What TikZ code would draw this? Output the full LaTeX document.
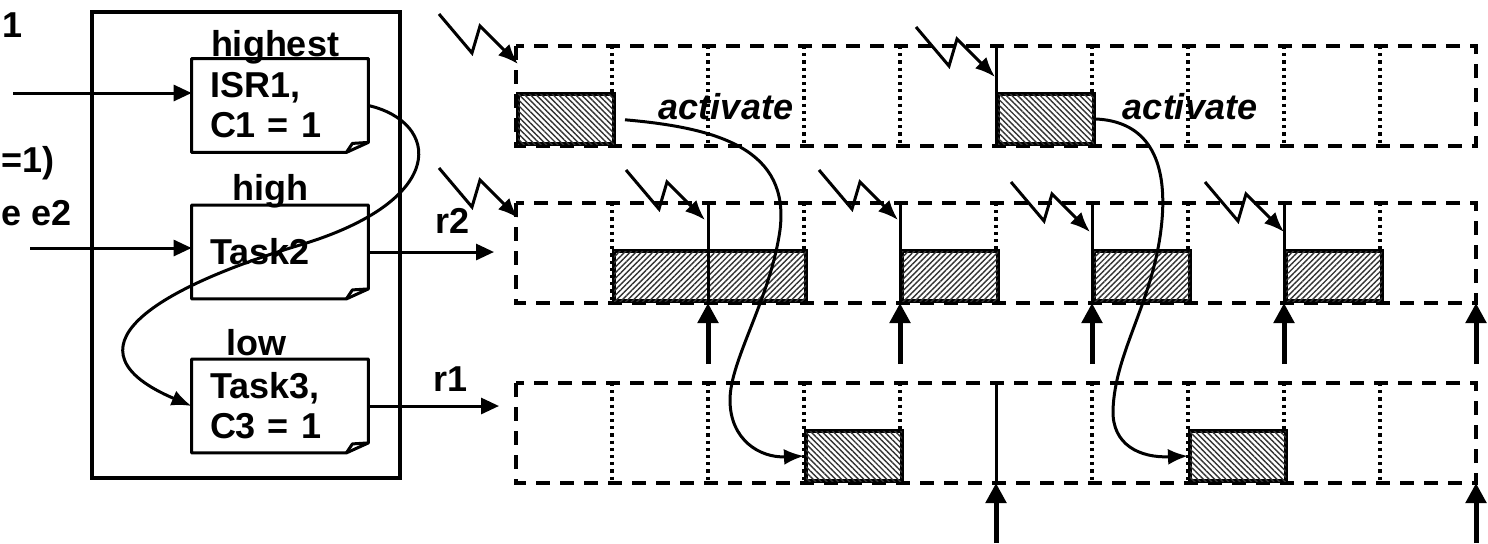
\documentclass[tikz,border=0pt]{standalone}
\usepackage{fontspec}
\setmainfont{Liberation Sans}
\usetikzlibrary{arrows.meta, calc, patterns.meta}
\newcommand\diafont{\bfseries\fontsize{18}{20}\selectfont}
\tikzset{
	lbl/.style={font=\diafont, inner sep=0pt},
	actlbl/.style={font=\diafont\itshape, inner sep=0pt},
	osbox/.style={draw, line width=2pt, minimum width=154pt, minimum height=233pt},
	taskbox/.style={minimum width=88pt, minimum height=46.5pt, inner xsep=9pt, inner ysep=0pt, text width=70pt, align=left, font=\diafont},
	note/.style={line width=1.5pt, line join=round},
	frame/.style={line width=2pt, dash pattern=on 7pt off 5pt},
	tick/.style={line width=1.6pt, dash pattern=on 1.6pt off 2pt},
	instant/.style={line width=1.5pt},
	slot/.style={draw, line width=2pt, anchor=south west, inner sep=0pt, minimum width=48pt, minimum height=25pt, fill=white},
	hatchdn/.style={postaction={pattern={Lines[angle=-45, distance=2pt, line width=0.7pt]}, pattern color=black!80}},
	hatchup/.style={postaction={pattern={Lines[angle=45, distance=2pt, line width=0.7pt]}, pattern color=black!80}},
	arrow/.style={-{Triangle[length=9pt, width=8pt]}, line width=1.5pt},
	irq/.style={-{Latex[length=10pt, width=8pt]}, line width=1.5pt, line join=miter},
	release/.style={-{Triangle[length=10pt, width=10pt]}, line width=2.5pt},
	curve/.style={-{Latex[length=10pt, width=8pt]}, line width=1.5pt},
}

\begin{document}
\begin{tikzpicture}[x=0.5pt, y=-0.5pt]
	\useasboundingbox (0,0) rectangle (1488,543);
	% scheduler side
	\node[osbox] (os) at (246,245) {};
	\node[taskbox] (isr) at (280,105.5) {ISR1,\\C1 = 1};
	\node[taskbox] (task2) at (280,252) {Task2};
	\node[taskbox] (task3) at (280,406) {Task3,\\C3 = 1};
	\foreach \n in {isr,task2,task3} {
		\draw[note] (\n.north west) -| ($(\n.south east)+(0,-10)$) -- ($(\n.south east)+(-22,0)$) -- (\n.south west) -- cycle;
		\draw[note] ($(\n.south east)+(-22,0)$) -- ($(\n.south east)+(-16,-9)$) -- ($(\n.south east)+(0,-10)$);
	}
	\node[lbl] (prio1) at (275,47) {highest};
	\node[lbl] (prio2) at (270,191) {high};
	\node[lbl] (prio3) at (256,343) {low};
	\node[lbl, anchor=west] (ev1) at (2,25) {1};
	\node[lbl, anchor=west] (ev2) at (1,163) {=1)};
	\node[lbl, anchor=west] (ev3) at (1,213) {e e2};
	\coordinate (in1) at (13,93);
	\coordinate (in2) at (30,248);
	\coordinate (out2) at (494,252);
	\coordinate (out1) at (499,406);
	\draw[arrow] (in1) -- (in1 -| isr.west);
	\draw[arrow] (in2) -- (in2 -| task2.west);
	\draw[arrow] (task2.east) -- (out2);
	\draw[arrow] (task3.east) -- (out1);
	\node[lbl] (r2) at (453,221) {r2};
	\node[lbl] (r1) at (451,379) {r1};
	\draw[curve] (isr.east) .. controls (440,122) and (450,200) .. (300,245) .. controls (150,290) and (60,350) .. (task3.west);
	% time lines
	\foreach \top in {46,203,383}
		\draw[frame] (516,\top) rectangle (1476,{\top+100});
	\foreach \k in {1,2,3,4,6,7,8,9} {
		\draw[tick] ({516+96*\k},46) -- ({516+96*\k},146);
		\draw[tick] ({516+96*\k},383) -- ({516+96*\k},483);
	}
	\foreach \k in {1,3,5,7,9}
		\draw[tick] ({516+96*\k},203) -- ({516+96*\k},303);
	% executions
	\node[slot, hatchdn] (a1) at (516,146) {};
	\node[slot, hatchdn] (a2) at (996,146) {};
	\node[slot, hatchup, minimum width=96pt] (b1) at (612,303) {};
	\node[slot, hatchup] (b2) at (900,303) {};
	\node[slot, hatchup] (b3) at (1092,303) {};
	\node[slot, hatchup] (b4) at (1284,303) {};
	\node[slot, hatchdn] (c1) at (804,483) {};
	\node[slot, hatchdn] (c2) at (1188,483) {};
	\draw[instant] (996,46) -- (996,146);
	\draw[instant] (996,383) -- (996,483);
	\foreach \k in {2,4,6,8}
		\draw[instant] ({516+96*\k},203) -- ({516+96*\k},303);
	% interrupts and releases
	\foreach \x/\y [count=\i] in {518/64, 995/77, 518/218, 705/220, 898/220, 1090/232, 1284/232} {
		\coordinate (irq\i) at (\x,\y);
		\draw[irq] ($(irq\i)+(-79,-50)$) -- ++(33,39) -- ++(8,-27) -- (irq\i);
	}
	\foreach \k in {2,4,6,8,10}
		\draw[release] ({516+96*\k},364) -- ({516+96*\k},303);
	\foreach \k in {5,10}
		\draw[release] ({516+96*\k},543) -- ({516+96*\k},483);
	\node[actlbl] (act1) at (726,107) {activate};
	\node[actlbl] (act2) at (1190,107) {activate};
	\draw[curve, shorten <=4.5pt] (a1.east) .. controls (720,128) and (790,150) .. (780,230) .. controls (770,300) and (730,360) .. (730,400) .. controls (730,440) and (760,458) .. (c1.west);
	\draw[curve] (a2.east) .. controls (1140,121) and (1168,150) .. (1162,220) .. controls (1155,300) and (1115,350) .. (1113,410) .. controls (1112,445) and (1140,458) .. (c2.west);
\end{tikzpicture}
\end{document}
